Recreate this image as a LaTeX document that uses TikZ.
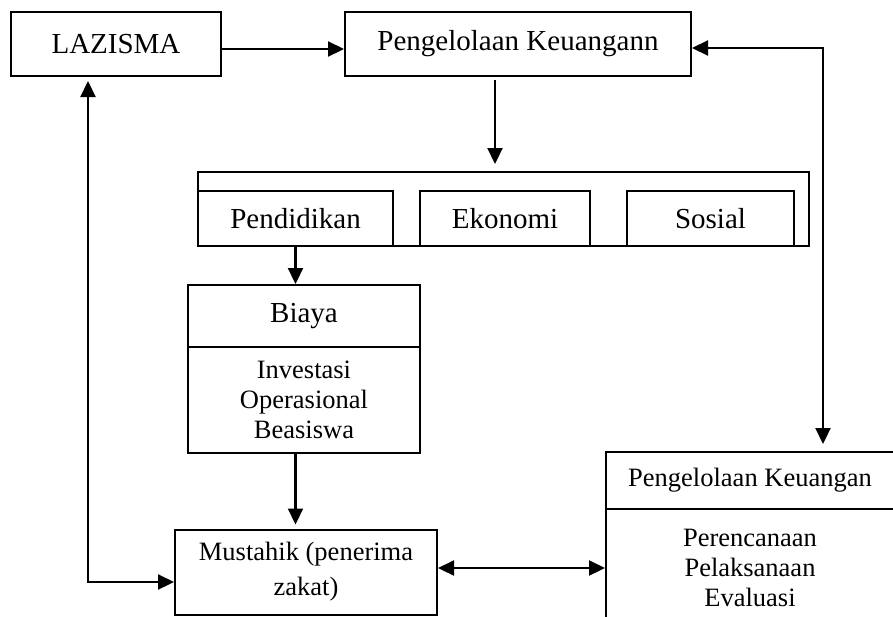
\documentclass[tikz,border=0pt]{standalone}
\usepackage{fontspec}
\setmainfont{Liberation Serif}
\usetikzlibrary{calc,arrows.meta,positioning}

\begin{document}
\begin{tikzpicture}[
  x=0.5pt, y=-0.5pt,
  line join=miter,
  >={Triangle[length=8pt,width=7.5pt]},
  box/.style={draw, line width=1pt, rectangle, inner sep=0pt, align=center},
  bigtxt/.style={font=\fontsize{14.5}{17}\selectfont},
  smalltxt/.style={font=\fontsize{13.25}{15}\selectfont},
  link/.style={line width=1.1pt, ->},
  twolink/.style={line width=1.1pt, <->}
]

% === Frame of the picture ===
\useasboundingbox (0,0) rectangle (893,616);
\clip (0,0) rectangle (893,616);

% === Top row ===
\node[box, bigtxt, minimum width=105pt, minimum height=32pt] (lazisma) at (116,44) {LAZISMA};
\node[box, bigtxt, minimum width=173pt, minimum height=32pt] (keu) at (518,44) {Pengelolaan Keuangann};

% === Group of fields ===
\node[box, minimum width=305.5pt, minimum height=37pt] (grp) at (503.5,209) {};
\foreach \name/\cx/\w/\txt in {
  pend/295.5/97.5/Pendidikan,
  eko/505/85/Ekonomi,
  sos/710.5/83.5/Sosial%
}{
  \node[box, bigtxt, fill=white, minimum width=\w pt, minimum height=27.5pt]
    (\name) at (\cx,218.5) {\txt};
}

% === Biaya ===
\node[box, bigtxt, minimum width=116pt, minimum height=31pt] (biaya) at (304,316) {Biaya};
\node[box, smalltxt, minimum width=116pt, minimum height=53pt] (biayaisi) at (304,400)
  {Investasi\\Operasional\\Beasiswa};

% === Mustahik ===
\node[box, smalltxt, font=\fontsize{13.25}{17.5}\selectfont,
  minimum width=131pt, minimum height=42.5pt] (mus) at (306,572)
  {Mustahik (penerima\\zakat)};

% === Pengelolaan Keuangan (bottom right) ===
\node[box, smalltxt, minimum width=144pt, minimum height=28.5pt] (pk) at (750,480.5)
  {Pengelolaan Keuangan};
\node[box, smalltxt, minimum width=144pt, minimum height=59pt] (pklist) at (750,568)
  {Perencanaan\\Pelaksanaan\\Evaluasi};

% === Connectors ===
\draw[link] ([yshift=-2.5pt]lazisma.east) -- ([yshift=-2.5pt]keu.west);
\draw[link] ($(keu.south)+(-23,3)$) -- ($(grp.north)+(-8.5,-7)$);
\draw[twolink] ([yshift=-2pt]keu.east) -| ($(pk.north)+(73,-7)$);
\draw[link] (pend.south) -- (pend.south |- biaya.north);
\draw[link] (pend.south |- biayaisi.south) -- ($(pend.south |- mus.north)+(0,-4)$);
\draw[twolink] ($(lazisma.south)+(-28,4)$) |- ($(mus.west)+(0,10)$);
\draw[twolink] (mus.east |- pklist.west) -- (pklist.west);

\end{tikzpicture}
\end{document}
